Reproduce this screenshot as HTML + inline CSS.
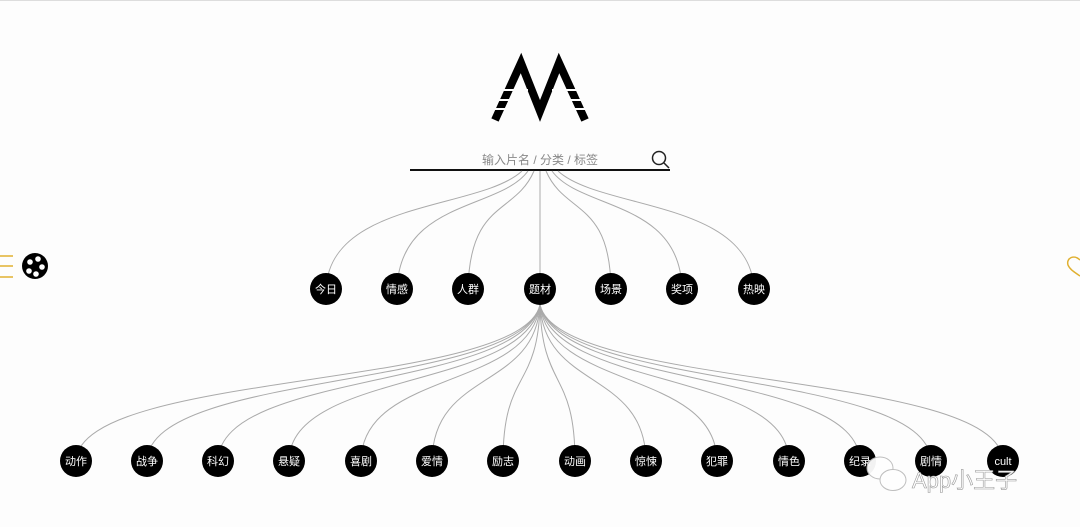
<!DOCTYPE html>
<html><head><meta charset="utf-8"><style>
html,body{margin:0;padding:0;background:#fdfdfd;width:1080px;height:527px;overflow:hidden;font-family:"Liberation Sans","Noto Sans CJK SC",sans-serif}
</style></head><body>
<svg width="1080" height="527" viewBox="0 0 1080 527" xmlns="http://www.w3.org/2000/svg" font-family="Liberation Sans, Noto Sans CJK SC, sans-serif">
<line x1="0" y1="0.5" x2="1080" y2="0.5" stroke="#ddd"/>
<!-- logo -->
<polyline points="495,120 521,63 540,111 559,63 585,120" fill="none" stroke="#000" stroke-width="8" stroke-linejoin="miter" stroke-miterlimit="10"/>
<g stroke="#fdfdfd" stroke-width="2">
<line x1="488" y1="90" x2="528" y2="90"/><line x1="488" y1="100" x2="528" y2="100"/><line x1="488" y1="109" x2="528" y2="109"/>
<line x1="552" y1="90" x2="592" y2="90"/><line x1="552" y1="100" x2="592" y2="100"/><line x1="552" y1="109" x2="592" y2="109"/>
</g>
<!-- search -->
<text x="540" y="164" font-size="12" fill="#888" text-anchor="middle">输入片名 / 分类 / 标签</text>
<line x1="410" y1="170" x2="670" y2="170" stroke="#111" stroke-width="2"/>
<circle cx="659" cy="158" r="6.5" fill="none" stroke="#222" stroke-width="1.5"/>
<line x1="664" y1="163" x2="669" y2="168" stroke="#222" stroke-width="1.5"/>
<!-- connectors -->
<g fill="none" stroke="#aaa" stroke-width="1">
<path d="M522,171 C480,210 330,200 326,289"/>
<path d="M528,171 C500,210 400,200 397,289"/>
<path d="M534,171 C515,215 470,200 468,289"/>
<path d="M540,171 L540,289"/>
<path d="M546,171 C565,215 610,200 611,289"/>
<path d="M552,171 C580,210 680,200 682,289"/>
<path d="M558,171 C600,210 750,200 754,289"/>
<path d="M540,305 C520,390 80,370 76,461"/>
<path d="M540,305 C520,390 150,370 147,461"/>
<path d="M540,305 C520,390 220,370 218,461"/>
<path d="M540,305 C525,390 290,370 289,461"/>
<path d="M540,305 C530,390 362,370 361,461"/>
<path d="M540,305 C535,390 433,370 432,461"/>
<path d="M540,305 C538,390 503,370 503,461"/>
<path d="M540,305 C542,390 575,370 575,461"/>
<path d="M540,305 C545,390 645,370 646,461"/>
<path d="M540,305 C550,390 716,370 717,461"/>
<path d="M540,305 C555,390 788,370 789,461"/>
<path d="M540,305 C560,390 858,370 860,461"/>
<path d="M540,305 C560,390 928,370 931,461"/>
<path d="M540,305 C560,390 1000,370 1003,461"/>
</g>
<g fill="#000">
<circle cx="326" cy="289" r="16"/><circle cx="397" cy="289" r="16"/><circle cx="468" cy="289" r="16"/><circle cx="540" cy="289" r="16"/><circle cx="611" cy="289" r="16"/><circle cx="682" cy="289" r="16"/><circle cx="754" cy="289" r="16"/>
<circle cx="76" cy="461" r="16"/><circle cx="147" cy="461" r="16"/><circle cx="218" cy="461" r="16"/><circle cx="289" cy="461" r="16"/><circle cx="361" cy="461" r="16"/><circle cx="432" cy="461" r="16"/><circle cx="503" cy="461" r="16"/><circle cx="575" cy="461" r="16"/><circle cx="646" cy="461" r="16"/><circle cx="717" cy="461" r="16"/><circle cx="789" cy="461" r="16"/><circle cx="860" cy="461" r="16"/><circle cx="931" cy="461" r="16"/><circle cx="1003" cy="461" r="16"/>
</g>
<g font-size="11" fill="#fff" text-anchor="middle">
<text x="326" y="293">今日</text><text x="397" y="293">情感</text><text x="468" y="293">人群</text><text x="540" y="293">题材</text><text x="611" y="293">场景</text><text x="682" y="293">奖项</text><text x="754" y="293">热映</text>
<text x="76" y="465">动作</text><text x="147" y="465">战争</text><text x="218" y="465">科幻</text><text x="289" y="465">悬疑</text><text x="361" y="465">喜剧</text><text x="432" y="465">爱情</text><text x="503" y="465">励志</text><text x="575" y="465">动画</text><text x="646" y="465">惊悚</text><text x="717" y="465">犯罪</text><text x="789" y="465">情色</text><text x="860" y="465">纪录</text><text x="931" y="465">剧情</text><text x="1003" y="465">cult</text>
</g>
<!-- left icons -->
<g stroke="#e0b030" stroke-width="1.5"><line x1="0" y1="256" x2="13" y2="256"/><line x1="0" y1="266" x2="13" y2="266"/><line x1="0" y1="277" x2="13" y2="277"/></g>
<circle cx="35" cy="266" r="13" fill="#000"/>
<g fill="#fff"><circle cx="30" cy="262" r="2.8"/><circle cx="38" cy="259" r="2.8"/><circle cx="42" cy="267" r="2.8"/><circle cx="36" cy="274" r="2.8"/><circle cx="29" cy="271" r="2.8"/></g>
<path d="M1080,260 C1074,254 1066,258 1068,265 C1070,270 1076,273 1080,276" fill="none" stroke="#e0b030" stroke-width="1.5"/>
<!-- watermark -->
<g fill="#fff" stroke="#bbb" stroke-width="1" opacity="0.95">
<ellipse cx="880" cy="468" rx="13" ry="11"/><ellipse cx="893" cy="480" rx="13" ry="10.5"/>
</g>
<text x="912" y="488" font-size="22" fill="#fff" stroke="#999" stroke-width="0.6">App小王子</text>
</svg>
</body></html>
